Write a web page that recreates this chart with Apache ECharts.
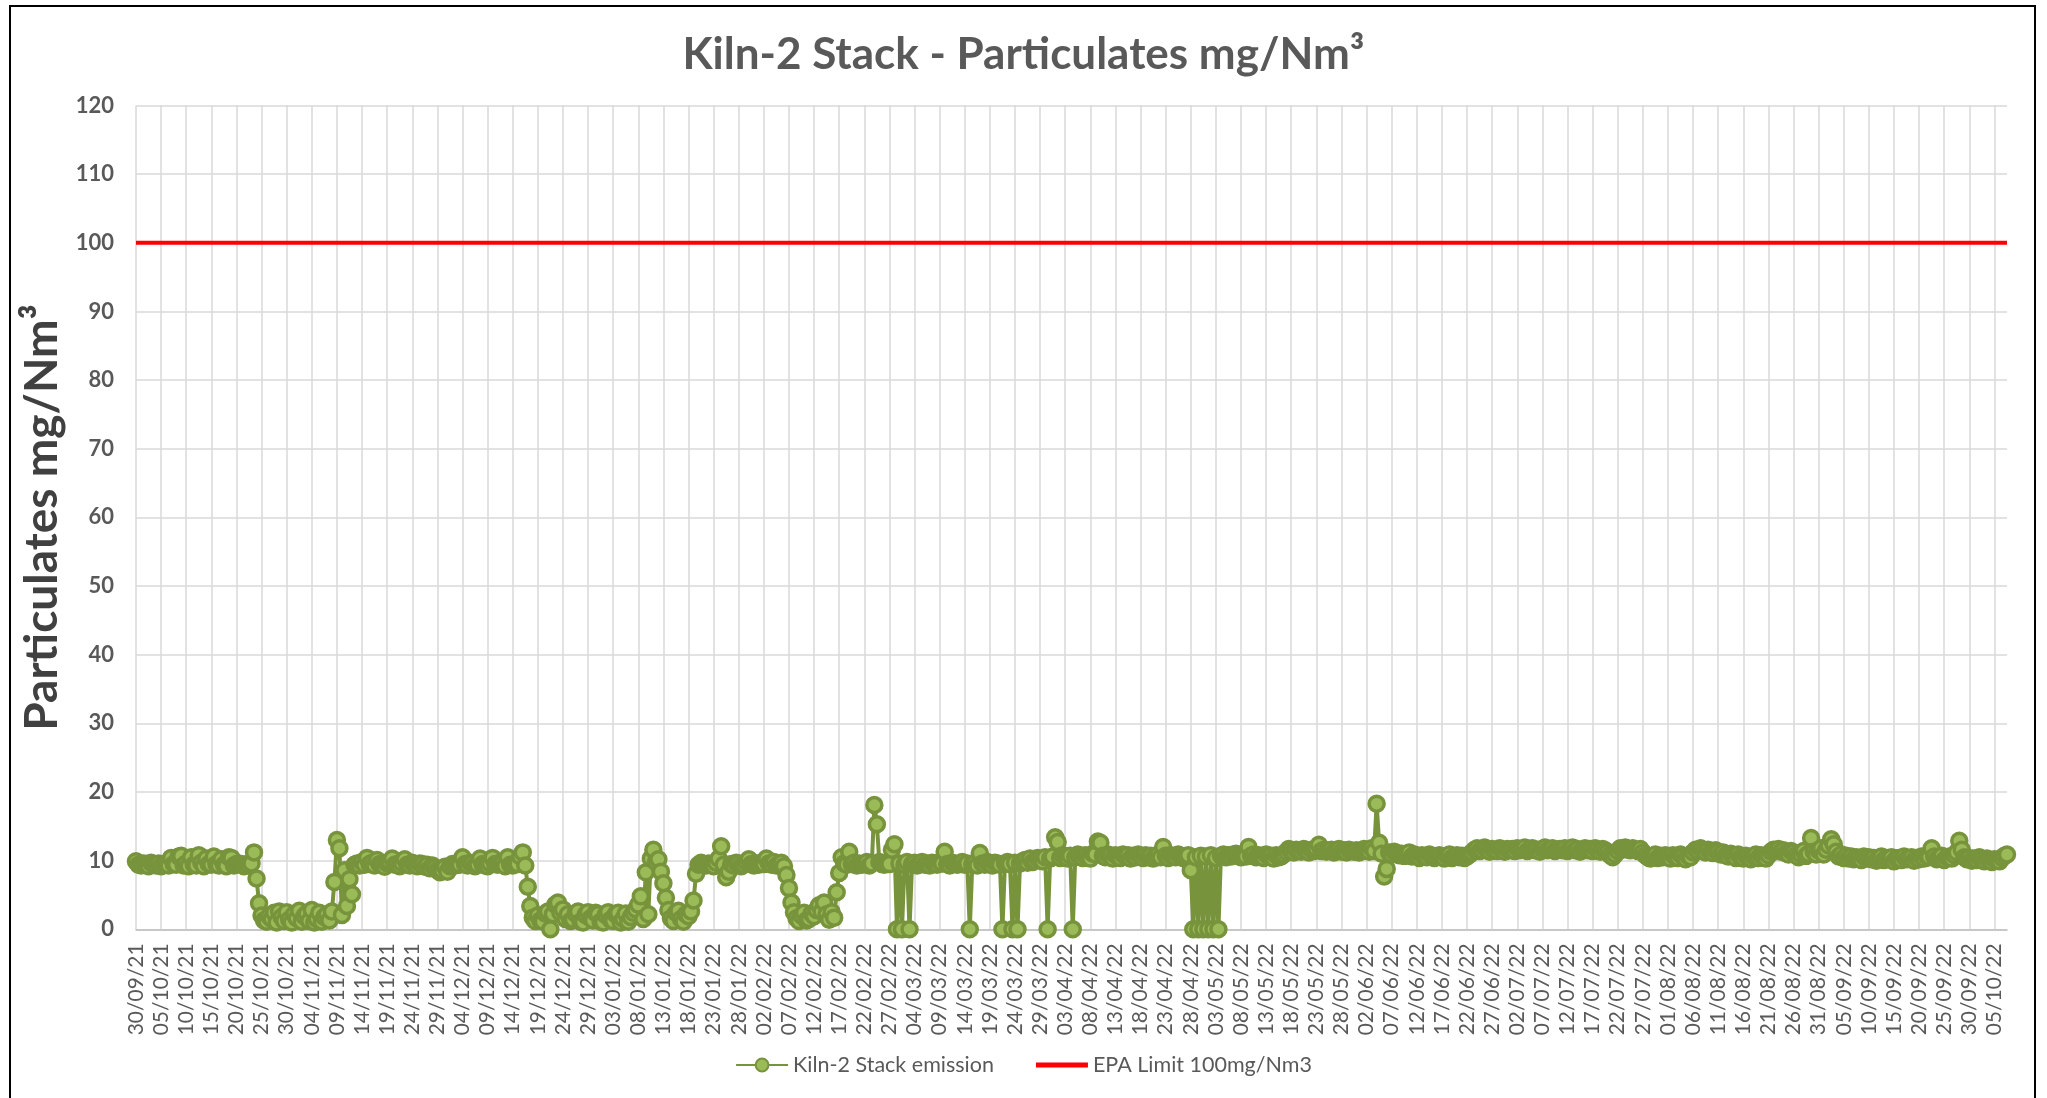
<!DOCTYPE html>
<html>
<head>
<meta charset="utf-8">
<title>Kiln-2 Stack - Particulates</title>
<script src="https://cdn.jsdelivr.net/npm/echarts@6/dist/echarts.min.js"></script>
<style>
  html, body { margin: 0; padding: 0; background: #fff; }
  #chart { width: 2047px; height: 1098px; }
</style>
</head>
<body>
<div id="chart"></div>
<script>
// 每天两次读数（00:00 / 12:00），从 30/09/21 开始
const readingTimes = ['00:00', '12:00']
const epaLimit = 100

// 各月读数 mg/Nm3
const sep21 = [9.9, 9.4]
const oct21 = [
  9.3, 9.6, 9.5, 9.2, 9.7, 9.4, 9.3, 9.6, 9.2, 9.5,
  9.6, 9.3, 10.4, 9.5, 9.4, 10.6, 10.7, 9.3, 9.6, 9.2,
  10.5, 9.4, 9.3, 10.8, 9.7, 9.2, 10.3, 9.5, 9.4, 10.6,
  9.5, 9.3, 10.2, 9.4, 9.2, 10.5, 10.4, 9.3, 9.5, 9.6,
  9.4, 9.2, 9.5, 9.3, 9.6, 11.2, 7.4, 3.8, 2.0, 1.3,
  1.1, 1.9, 1.5, 2.4, 1.0, 2.6, 1.8, 1.2, 2.5, 1.4,
  1.0, 2.2
]
const nov21 = [
  1.6, 2.7, 1.1, 1.9, 2.3, 1.2, 2.8, 1.0, 1.5, 2.4,
  1.1, 1.8, 2.2, 1.3, 2.6, 6.9, 13.0, 11.8, 2.1, 8.6,
  3.4, 7.3, 5.1, 9.4, 9.6, 9.3, 9.8, 9.4, 10.4, 9.5,
  9.7, 9.3, 10.1, 9.5, 9.4, 9.1, 9.6, 9.8, 10.3, 9.4,
  9.5, 9.2, 9.6, 10.2, 9.4, 9.3, 9.7, 9.5, 9.2, 9.6,
  9.5, 9.1, 9.4, 8.9, 9.3, 9.0, 8.6, 8.3, 8.5, 9.1
]
const dec21 = [
  8.4, 9.2, 9.5, 9.3, 9.6, 9.4, 10.5, 9.5, 9.3, 9.7,
  9.6, 9.2, 9.4, 10.3, 9.5, 9.3, 9.2, 9.6, 10.4, 9.5,
  9.4, 9.7, 9.6, 9.2, 10.5, 9.4, 9.3, 9.6, 9.5, 10.6,
  11.2, 9.3, 6.2, 3.4, 1.7, 1.2, 2.0, 1.3, 1.1, 2.3,
  2.6, 0.0, 2.2, 3.6, 3.9, 2.4, 2.9, 1.5, 2.2, 1.2,
  1.4, 2.3, 2.6, 1.1, 1.0, 2.1, 2.5, 1.6, 1.3, 2.4,
  2.2, 1.1
]
const jan22 = [
  1.0, 2.1, 2.5, 1.4, 1.2, 2.2, 2.4, 1.0, 1.5, 2.3,
  1.1, 1.8, 2.4, 2.9, 3.6, 4.8, 1.5, 8.3, 2.2, 10.3,
  11.6, 9.8, 10.2, 8.4, 6.7, 4.6, 2.8, 1.6, 1.2, 2.4,
  2.7, 1.5, 1.1, 2.2, 1.9, 2.6, 4.2, 8.1, 9.4, 9.7,
  9.5, 9.3, 9.6, 9.4, 9.2, 9.7, 10.3, 12.1, 9.4, 7.6,
  8.4, 9.5, 9.3, 9.7, 9.6, 9.2, 9.4, 9.8, 10.2, 9.5,
  9.3, 9.6
]
const feb22 = [
  9.4, 9.7, 9.5, 10.3, 9.6, 9.4, 9.8, 9.3, 9.5, 9.7,
  9.2, 7.9, 6.0, 3.9, 2.5, 1.6, 1.2, 2.0, 2.4, 1.3,
  1.5, 2.3, 1.9, 2.8, 3.5, 2.6, 3.9, 2.2, 1.4, 2.5,
  1.7, 5.4, 8.2, 10.5, 9.6, 9.4, 11.3, 9.5, 9.7, 9.3,
  9.6, 9.4, 9.5, 9.8, 9.3, 9.6, 18.1, 15.3, 9.8, 9.5,
  9.4, 9.7, 9.5, 11.6, 12.4, 0.0
]
const mar22 = [
  9.6, 0.0, 9.4, 9.8, 0.0, 9.5, 9.7, 9.3, 9.5, 9.8,
  9.4, 9.6, 9.3, 9.7, 9.5, 9.4, 9.8, 9.6, 11.3, 9.5,
  9.3, 9.7, 9.6, 9.4, 9.5, 9.8, 9.4, 9.6, 0.0, 9.5,
  9.7, 9.3, 11.1, 9.6, 9.4, 9.8, 9.5, 9.3, 9.7, 9.6,
  9.4, 0.0, 9.6, 9.8, 9.5, 0.0, 9.7, 0.0, 9.6, 9.9,
  10.1, 9.7, 10.3, 9.8, 10.0, 10.4, 10.2, 9.9, 10.5, 0.0,
  10.3, 10.6
]
const apr22 = [
  13.4, 12.7, 10.4, 10.8, 10.6, 10.3, 10.7, 0.0, 10.5, 10.9,
  10.6, 10.4, 10.8, 10.5, 10.3, 11.0, 10.9, 12.8, 12.6, 10.7,
  10.5, 10.9, 10.7, 10.3, 10.8, 10.6, 10.4, 10.9, 10.6, 10.8,
  10.3, 10.7, 10.5, 10.9, 10.6, 10.4, 10.8, 10.5, 10.7, 10.3,
  10.6, 10.9, 10.5, 12.0, 10.7, 10.4, 10.8, 10.6, 10.5, 10.9,
  10.7, 10.4, 10.6, 10.8, 8.6, 0.0, 10.5, 0.0, 10.7, 0.0
]
const may22 = [
  10.6, 0.0, 10.8, 0.0, 10.4, 0.0, 10.7, 10.9, 10.5, 10.8,
  10.6, 10.9, 11.0, 10.7, 10.5, 10.8, 10.6, 12.0, 10.7, 10.9,
  10.5, 10.8, 10.6, 10.4, 10.9, 10.6, 10.7, 10.3, 10.8, 10.5,
  10.6, 10.9, 11.3, 11.7, 11.5, 11.2, 11.6, 11.4, 11.3, 11.7,
  11.5, 11.2, 11.6, 11.4, 11.7, 12.3, 11.4, 11.6, 11.3, 11.5,
  11.6, 11.2, 11.4, 11.7, 11.3, 11.5, 11.2, 11.6, 11.4, 11.3,
  11.5, 11.2
]
const jun22 = [
  11.4, 11.7, 11.5, 11.3, 11.8, 11.4, 18.3, 12.6, 11.0, 7.7,
  8.8, 11.2, 10.9, 11.3, 11.1, 10.8, 11.0, 10.7, 10.9, 11.2,
  10.6, 10.9, 10.7, 10.4, 10.8, 10.6, 10.5, 10.9, 10.7, 10.4,
  10.6, 10.8, 10.5, 10.3, 10.7, 10.9, 10.4, 10.6, 10.8, 10.5,
  10.7, 10.4, 10.6, 10.9, 11.2, 11.6, 11.8, 11.4, 11.5, 11.9,
  11.6, 11.3, 11.7, 11.5, 11.4, 11.8, 11.6, 11.3, 11.7, 11.5
]
const jul22 = [
  11.7, 11.4, 11.8, 11.5, 11.6, 11.9, 11.4, 11.7, 11.8, 11.5,
  11.6, 11.3, 11.7, 11.9, 11.5, 11.6, 11.8, 11.4, 11.6, 11.7,
  11.5, 11.8, 11.4, 11.6, 11.9, 11.5, 11.7, 11.3, 11.6, 11.8,
  11.5, 11.7, 11.4, 11.8, 11.6, 11.3, 11.7, 11.5, 11.2, 10.8,
  10.5, 10.9, 11.4, 11.8, 11.6, 11.9, 11.7, 11.5, 11.8, 11.6,
  11.4, 11.7, 11.2, 10.8, 10.5, 10.3, 10.6, 10.9, 10.4, 10.7,
  10.5, 10.8
]
const aug22 = [
  10.6, 10.3, 10.8, 10.5, 10.4, 10.9, 10.6, 10.2, 10.7, 10.5,
  11.2, 11.6, 11.4, 11.8, 11.5, 11.2, 11.6, 11.3, 11.1, 11.5,
  11.3, 10.9, 11.2, 10.8, 10.6, 11.0, 10.7, 10.4, 10.9, 10.5,
  10.3, 10.7, 10.5, 10.2, 10.6, 10.9, 10.4, 10.8, 10.6, 10.3,
  10.8, 11.3, 11.6, 11.4, 11.7, 11.3, 11.5, 11.1, 10.9, 11.4,
  11.2, 10.8, 10.5, 10.9, 11.4, 10.7, 11.0, 13.3, 11.3, 10.9,
  11.5, 11.8
]
const sep22 = [
  10.9, 11.6, 12.2, 13.1, 12.4, 11.3, 10.6, 10.9, 10.4, 10.7,
  10.3, 10.6, 10.2, 10.5, 10.4, 10.1, 10.6, 10.3, 10.5, 10.2,
  10.4, 10.0, 10.3, 10.6, 10.1, 10.4, 10.2, 10.5, 9.9, 10.3,
  10.4, 10.1, 10.6, 10.2, 10.3, 10.5, 10.0, 10.4, 10.2, 10.6,
  10.3, 10.7, 10.5, 11.8, 10.6, 10.2, 10.4, 10.7, 10.1, 10.5,
  10.6, 10.3, 10.8, 11.2, 12.9, 11.6, 10.5, 10.2, 10.4, 10.0
]
const oct22 = [
  10.3, 10.1, 10.5, 10.2, 9.9, 10.3, 10.1, 9.8, 10.2, 10.0,
  9.9, 10.4, 10.7, 10.9
]

const emission = [].concat(sep21, oct21, nov21, dec21, jan22, feb22, mar22,
  apr22, may22, jun22, jul22, aug22, sep22, oct22)

// 日期类目 dd/mm/yy hh:mm
function pad(n) {
  return n < 10 ? '0' + n : '' + n
}
const categories = []
for (let i = 0; i < emission.length / readingTimes.length; i++) {
  const d = new Date(2021, 8, 30 + i)
  const label = pad(d.getDate()) + '/' + pad(d.getMonth() + 1) + '/' + String(d.getFullYear()).slice(2)
  readingTimes.forEach(t => categories.push(label + ' ' + t))
}
const limitData = categories.map(() => epaLimit)

const chart = echarts.init(document.getElementById('chart'))
const font = 'Lato, "Open Sans", sans-serif'
const option = {
  animation: false,
  backgroundColor: '#fff',
  textStyle: { fontFamily: font },
  title: {
    text: 'Kiln-2 Stack - Particulates mg/Nm³',
    left: 'center',
    top: 28,
    textStyle: { color: '#595959', fontSize: 44, fontWeight: 'bold', fontFamily: font },
  },
  legend: {
    left: 'center',
    top: 1049,
    itemWidth: 52,
    itemHeight: 16,
    itemGap: 42,
    textStyle: { color: '#595959', fontSize: 21.5, fontFamily: font },
    data: [
      { name: 'Kiln-2 Stack emission' },
      // 红线图例只画一条横线
      { name: 'EPA Limit 100mg/Nm3', icon: 'path://M0,0 L52,0 L52,5 L0,5 Z' },
    ],
  },
  grid: { left: 136, right: 40, top: 105.5, bottom: 168.7 },
  xAxis: {
    type: 'category',
    data: categories,
    boundaryGap: false,
    axisLine: { lineStyle: { color: '#BFBFBF', width: 1.5 } },
    axisTick: { show: false },
    axisLabel: {
      interval: 9,
      rotate: 90,
      margin: 14,
      color: '#595959',
      fontSize: 21,
      fontFamily: font,
      formatter: v => v.slice(0, 8),
    },
    splitLine: { show: true, interval: 9, lineStyle: { color: '#D9D9D9', width: 1.5 } },
  },
  yAxis: {
    type: 'value',
    min: 0,
    max: 120,
    interval: 10,
    name: 'Particulates mg/Nm³',
    nameLocation: 'middle',
    nameGap: 66,
    nameTextStyle: { color: '#404040', fontSize: 46, fontWeight: 'bold', fontFamily: font },
    axisLine: { show: false },
    axisTick: { show: false },
    axisLabel: { color: '#595959', fontSize: 22, fontWeight: 'bold', margin: 22, fontFamily: font },
    splitLine: { lineStyle: { color: '#D9D9D9', width: 1.5 } },
  },
  series: [
    {
      name: 'Kiln-2 Stack emission',
      type: 'line',
      data: emission,
      symbol: 'circle',
      symbolSize: 15,
      showAllSymbol: true,
      lineStyle: { color: '#77933C', width: 4 },
      itemStyle: { color: '#9BBB59', borderColor: '#77933C', borderWidth: 3.5 },
      z: 3,
    },
    {
      name: 'EPA Limit 100mg/Nm3',
      type: 'line',
      data: limitData,
      symbol: 'none',
      lineStyle: { color: '#FF0000', width: 4 },
      itemStyle: { color: '#FF0000' },
      z: 2,
    },
  ],
  graphic: [
    {
      type: 'rect',
      silent: true,
      shape: { x: 10, y: 6, width: 2025, height: 1100 },
      style: { fill: 'none', stroke: '#000', lineWidth: 2 },
    },
  ],
}
chart.setOption(option)
</script>
</body>
</html>
